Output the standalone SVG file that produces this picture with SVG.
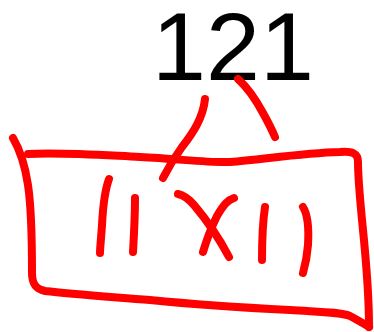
<svg xmlns="http://www.w3.org/2000/svg" width="374" height="332" viewBox="0 0 374 332">
<style>
.ink{fill:none;stroke:#ff0000;stroke-width:8;stroke-linecap:round;stroke-linejoin:round}
.num{font-family:"Liberation Sans",Arial,sans-serif;font-size:97px;fill:#000}
</style>
<rect width="374" height="332" fill="#fff"/>
<text class="num" x="152" y="80">121</text>
<g id="strokes">
<path class="ink" d="M205,99 C203,118 193,133 182,147 C174,158 168,168 163,178"/>
<path class="ink" d="M238,79 C248,88 256,100 263,113 C268,122 272,130 275,137"/>
<path class="ink" d="M13,138 C20,150 25,165 28,185 C31,205 32,230 32,273 C32,283 35,289 45,291 C70,294 100,296 150,300 C200,305 250,308 290,310 C320,312 340,312 350,316 C358,320 364,324 369,327"/>
<path class="ink" d="M28,154 C60,152 100,155 140,157 C180,159 210,163 230,162 C260,160 300,153 340,152 C352,151 358,153 358,162 C358,180 360,200 363,230 C366,260 369,290 369,327"/>
<path class="ink" d="M109,179 C105,190 103,205 102,225 C101,240 100,248 100,253"/>
<path class="ink" d="M135,198 C135,215 134,235 133,252"/>
<path class="ink" d="M178,194 C183,195 187,197 194,205 C205,218 220,240 229,257"/>
<path class="ink" d="M234,198 C228,200 224,204 217,216 C211,228 206,242 203,252"/>
<path class="ink" d="M265,207 C263,220 262,235 262,260"/>
<path class="ink" d="M303,207 C308,215 309,228 308,245 C307,258 305,266 303,273"/>
</g>
</svg>
